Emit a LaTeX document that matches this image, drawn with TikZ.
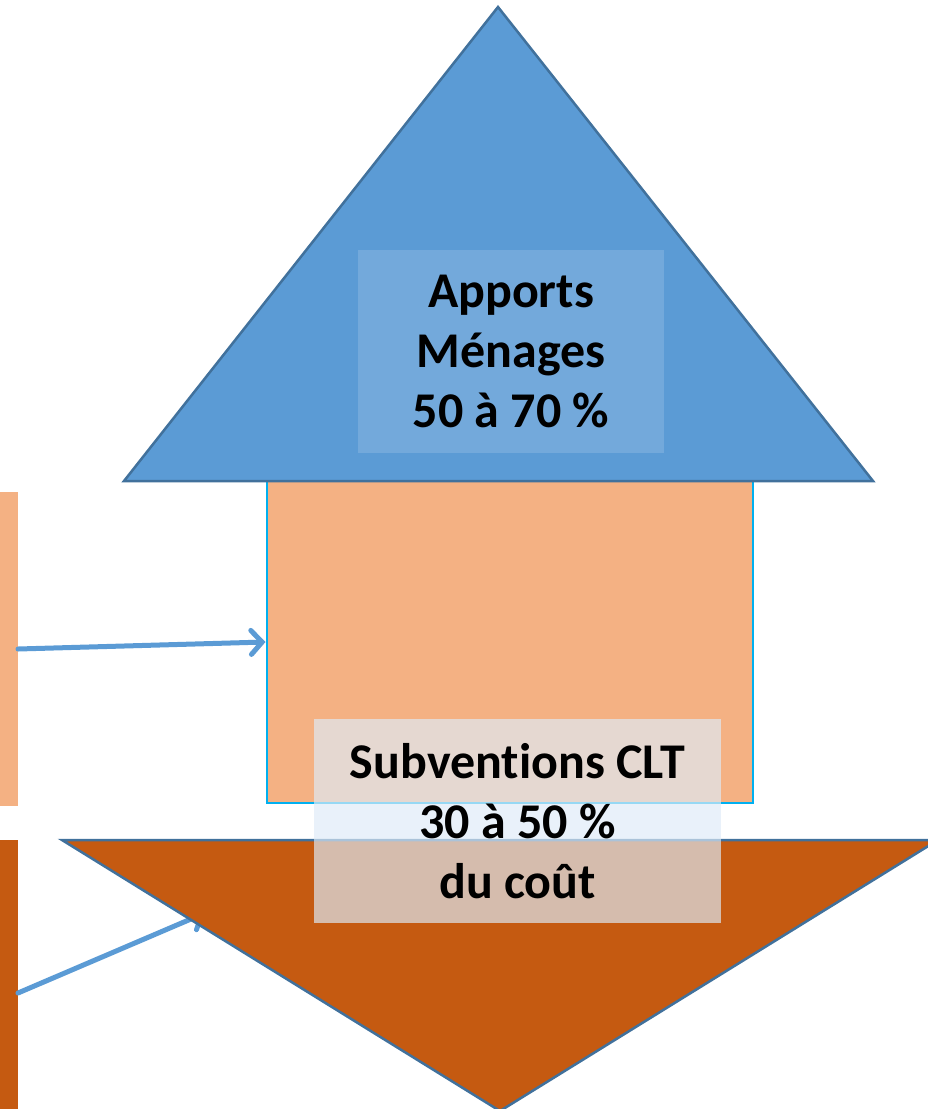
\documentclass[tikz,border=0pt]{standalone}
\usepackage{fontspec}
\setmainfont[RawFeature={-liga;-dlig;-calt;-clig}]{Carlito}
\usetikzlibrary{arrows.meta}
\definecolor{roofblue}{HTML}{5B9BD5}
\definecolor{roofedge}{HTML}{41719C}
\definecolor{wallorange}{HTML}{F4B183}
\definecolor{baseorange}{HTML}{C55A11}
\definecolor{walledge}{HTML}{00B0F0}
\definecolor{labelfill}{HTML}{DEEBF7}
\definecolor{arrowblue}{HTML}{5B9BD5}
\tikzset{
  bigtext/.style={font=\bfseries\fontsize{50}{60}\selectfont, align=center, text=black},
  flowarrow/.style={draw=arrowblue, line width=5pt, line cap=round,
    -{Straight Barb[length=11pt,width=24pt,line cap=round]}},
  strip/.style={inner sep=0pt, outer sep=0pt, anchor=north west, draw=none},
}
\begin{document}
\begin{tikzpicture}[x=1pt,y=-1pt]
\useasboundingbox (0,0) rectangle (927,1109);

% left-hand strips
\node[strip, fill=wallorange, minimum width=18pt, minimum height=314pt] (stripA) at (0,492) {};
\node[strip, fill=baseorange, minimum width=18pt, minimum height=270pt] (stripB) at (0,840) {};

% house body
\node[inner sep=0pt, outer sep=0pt, anchor=north west, fill=wallorange, draw=walledge,
      line width=2.5pt, minimum width=486pt, minimum height=322pt] (wall) at (267,481) {};

% roof
\coordinate (roofTop) at (498,7);
\coordinate (roofR) at (873,481);
\coordinate (roofL) at (124,481);
\draw[fill=roofblue, draw=roofedge, line width=2.5pt, line join=miter] (roofTop) -- (roofR) -- (roofL) -- cycle;

% arrows
\coordinate (a1s) at (stripA.east |- 0,649);
\draw[flowarrow] (a1s) -- ([xshift=-1.5pt]wall.west);
\coordinate (a2s) at (stripB.east |- 0,993);
\coordinate (a2e) at (205,913);
\draw[flowarrow] (a2s) -- (a2e);

% downward triangle
\coordinate (baseL) at (62,840);
\coordinate (baseR) at (938,840);
\coordinate (baseTip) at (500,1111);
\draw[fill=baseorange, draw=roofedge, line width=2.5pt] (baseL) -- (baseR) -- (baseTip) -- cycle;

% labels
\node[bigtext, fill=white, fill opacity=0.15, text opacity=1, minimum width=306pt,
      minimum height=203pt, inner sep=0pt] (apports) at (511,351.5)
      {Apports\\Ménages\\50 à 70 \%};
\node[bigtext, fill=labelfill, fill opacity=0.68, text opacity=1, minimum width=407pt,
      minimum height=204pt, inner sep=0pt] (subv) at (517.5,821)
      {Subventions CLT\\30 à 50 \%\\du coût};
\end{tikzpicture}
\end{document}
